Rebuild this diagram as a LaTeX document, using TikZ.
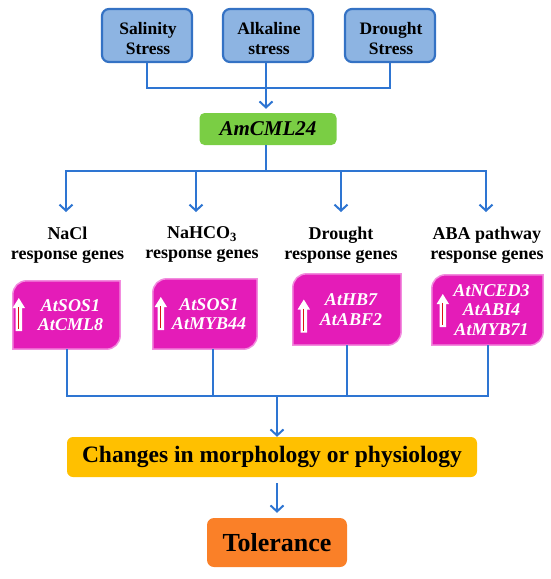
\documentclass[tikz,border=0pt]{standalone}
\usepackage{fontspec}
\setmainfont{Liberation Serif}
\usetikzlibrary{arrows.meta,calc,backgrounds}
\definecolor{topfill}{RGB}{141,180,226}
\definecolor{topborder}{RGB}{52,114,196}
\definecolor{lineblue}{RGB}{46,117,210}
\definecolor{greenfill}{RGB}{122,206,68}
\definecolor{magfill}{RGB}{228,28,184}
\definecolor{magborder}{RGB}{242,140,222}
\definecolor{yellowfill}{RGB}{255,192,0}
\definecolor{orangefill}{RGB}{250,128,40}
\definecolor{arrowred}{RGB}{220,20,20}
\newcommand\mygenebox[7]{% name, center, width, height, arrow dx, arrow dy, text
  \node[genebox, minimum width=#3, minimum height=#4] (#1) at #2 {};
  \begin{scope}[on background layer]
    \path[fill=magfill, draw=magborder, line width=1.5pt]
      (#1.south west) -- ($(#1.north west)+(0,14)$)
      .. controls ($(#1.north west)+(0,6)$) and ($(#1.north west)+(6,0)$) .. ($(#1.north west)+(14,0)$)
      -- (#1.north east) -- ($(#1.south east)+(0,-14)$)
      .. controls ($(#1.south east)+(0,-6)$) and ($(#1.south east)+(-6,0)$) .. ($(#1.south east)+(-14,0)$) -- cycle;
  \end{scope}
  \begin{scope}[shift={($(#1.west)+(#5,#6)$)}]
    \fill[white] (-3.2,16) -- (-3.2,-7) -- (-6.2,-7) -- (0,-17) -- (6.2,-7) -- (3.2,-7) -- (3.2,16) -- cycle;
    \draw[arrowred, line width=1.2pt] (0,-8) -- (0,14);
  \end{scope}
  \node[genetext] (#1t) at ($(#1.center)+(4,0)$) {#7};
}
\begin{document}
\begin{tikzpicture}[x=1pt,y=-1pt,
  topbox/.style={draw=topborder, line width=2.2pt, fill=topfill, rounded corners=7pt,
    minimum width=90pt, minimum height=53pt, align=center, inner sep=0pt,
    font=\bfseries\fontsize{17.5}{20}\selectfont},
  conn/.style={draw=lineblue, line width=2pt},
  arr/.style={draw=lineblue, line width=2pt, -{Straight Barb[length=6pt,width=13pt]}},
  genebox/.style={draw=none, inner sep=0pt},
  genetext/.style={text=white, align=center, inner sep=0pt,
    font=\bfseries\itshape\fontsize{18}{19.5}\selectfont},
  glabel/.style={align=center, inner sep=0pt, font=\bfseries\fontsize{18}{20}\selectfont}]
\useasboundingbox (0,0) rectangle (550,579);

% top stress boxes
\node[topbox] (sal) at (147,35.5) {};
\node[topbox] (alk) at (268,35.5) {};
\node[topbox] (dro) at (390,35.5) {};
\node[align=center, inner sep=0pt, font=\bfseries\fontsize{17.5}{20}\selectfont] (salt) at (148,38.5) {Salinity\\Stress};
\node[align=center, inner sep=0pt, font=\bfseries\fontsize{17.5}{20}\selectfont] (alkt) at (269,38.5) {Alkaline\\stress};
\node[align=center, inner sep=0pt, font=\bfseries\fontsize{17.5}{20}\selectfont] (drot) at (391,38.5) {Drought\\Stress};

% AmCML24
\node[fill=greenfill, rounded corners=5pt, minimum width=137pt, minimum height=32pt, inner sep=0pt,
  font=\bfseries\itshape\fontsize{21}{24}\selectfont] (aml) at (268,129) {AmCML24};

\coordinate (j1) at (266,88);
\draw[conn] (sal.south) |- (j1) -| (dro.south);
\draw[arr, shorten >=4pt] (alk.south -| j1) -- (aml.north -| j1);

% distribution
\coordinate (j2) at (266,171);
\coordinate (a1) at (66,212);
\coordinate (a2) at (196,212);
\coordinate (a3) at (341,212);
\coordinate (a4) at (486,212);
\draw[conn] (aml.south -| j2) -- (j2);
\draw[arr] (j2) -| (a1);
\draw[arr] (j2) -| (a2);
\draw[arr] (j2) -| (a3);
\draw[arr] (j2) -| (a4);

% labels
\node[glabel] (l1) at (67.5,245) {NaCl\\response genes};
\node[glabel] (l2) at (202,245) {NaHCO\textsubscript{3}\\response genes};
\node[glabel] (l3) at (341,245) {Drought\\response genes};
\node[glabel] (l4) at (487,245) {ABA pathway\\response genes};

% gene boxes
\mygenebox{g1}{(66.5,315)}{107pt}{68pt}{6}{0}{AtSOS1\\AtCML8}
\mygenebox{g2}{(205,314)}{104pt}{70pt}{8}{0}{AtSOS1\\AtMYB44}
\mygenebox{g3}{(347,309.5)}{108pt}{71pt}{11}{7}{AtHB7\\AtABF2}
\mygenebox{g4}{(487.5,310)}{111pt}{70pt}{11}{1}{AtNCED3\\AtABI4\\AtMYB71}

% collection
\coordinate (j3) at (277,396);
\draw[conn] ([xshift=0.5pt]g1.south) |- (j3);
\draw[conn] ([xshift=8pt]g2.south) -- ([xshift=8pt]g2.south |- j3);
\draw[conn] (g3.south) -- (g3.south |- j3);
\draw[conn] (g4.south) |- (j3);

% changes
\node[fill=yellowfill, rounded corners=6pt, minimum width=410pt, minimum height=40pt, inner sep=0pt,
  font=\bfseries\fontsize{23.5}{26}\selectfont] (chg) at (272,457) {Changes in morphology or physiology};
\draw[arr] (j3) -- (j3 |- chg.north);

% tolerance
\node[fill=orangefill, rounded corners=7pt, minimum width=140pt, minimum height=49pt, inner sep=0pt,
  font=\bfseries\fontsize{26}{30}\selectfont] (tol) at (277,542.5) {Tolerance};
\draw[arr, shorten <=6pt, shorten >=5pt] (chg.south -| tol) -- (tol.north);
\end{tikzpicture}
\end{document}
